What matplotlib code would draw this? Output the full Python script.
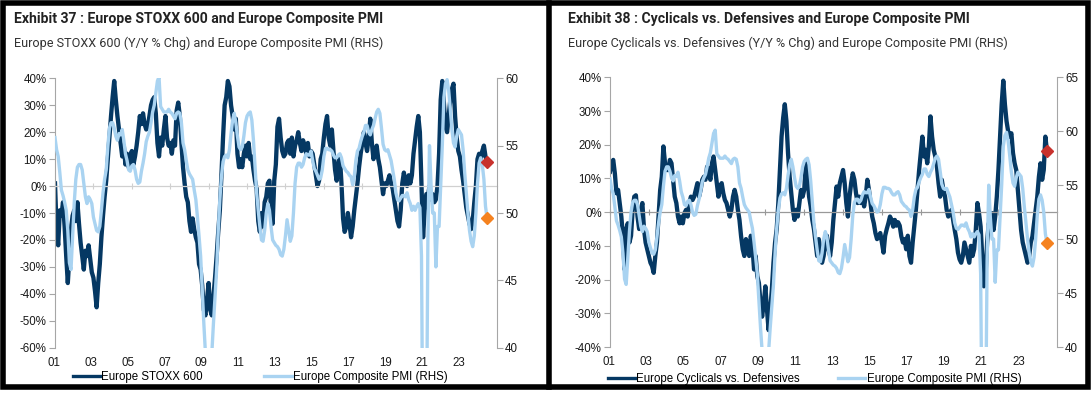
import matplotlib
matplotlib.use('Agg')
import matplotlib.pyplot as plt
import numpy as np
from matplotlib import font_manager
from matplotlib.lines import Line2D
from matplotlib.patches import Rectangle
import matplotlib.transforms as mtransforms

names = {f.name for f in font_manager.fontManager.ttflist}
TITLE_FONT = 'Liberation Sans Narrow' if 'Liberation Sans Narrow' in names else 'Roboto'
BODY_FONT = 'Liberation Sans'

# ---------------- data (monthly, Jan 2001 .. Jul 2023) ----------------
start_year = 2001.0

stoxx600_yoy = [
    1, -16, -22, -9, -11, -6, -15, -26, -36, -26, -16, -11,
    -9, -13, -6, -14, -21, -26, -31, -24, -26, -22, -27, -32,
    -34, -39, -45, -36, -29, -19, -11, -4, 2, 10, 18, 26,
    33, 39, 32, 26, 21, 16, 11, 15, 8, 12, 7, 11,
    13, 8, 11, 15, 20, 26, 23, 27, 23, 21, 22, 26,
    30, 32, 33, 27, 16, 11, 18, 15, 21, 26, 18, 15,
    16, 12, 17, 15, 28, 31, 26, 16, 7, 1, -4, -6,
    -13, -17, -12, -16, -19, -21, -29, -31, -37, -46, -48, -42,
    -36, -46, -48, -41, -34, -26, -17, -9, 4, 18, 30, 33,
    39, 37, 30, 26, 21, 25, 12, 7, 10, 7, 12, 15,
    11, 16, 10, 11, 6, 2, -1, -13, -17, -10, -15, -6,
    -4, 1, 2, -9, -14, 2, 8, 22, 25, 18, 13, 11,
    12, 16, 17, 12, 18, 11, 15, 17, 20, 16, 13, 17,
    15, 12, 16, 11, 13, 12, 8, 4, 0, 2, 10, 12,
    18, 23, 26, 18, 15, 21, 13, 6, 2, 8, 11, 1,
    -12, -17, -15, -10, -14, -19, -15, -9, -4, 1, 7, 12,
    16, 20, 16, 13, 18, 25, 16, 10, 12, 15, 10, 7,
    2, -3, 1, 0, 2, 4, 1, -1, -5, -9, -13, -15,
    -9, 1, 5, 1, 0, 4, 1, 4, 12, 17, 22, 26,
    20, 0, -19, -9, -3, -4, 0, -5, -3, -6, -5, 0,
    12, 32, 39, 31, 22, 20, 26, 32, 36, 38, 26, 18,
    13, 11, 6, 2, -3, -8, -11, -14, -16, -13, -6, 0,
    10, 12, 10, 13, 15, 11, 9,
]

cyc_vs_def_yoy = [
    12, 14.5, 15.5, 11.5, 5.6, 6.6, 2.7, -1.3, -7.2, -17, -5, -3.3,
    -9, -7, 0.7, 4.6, 5, -1.3, -5, 0.7, 2.7, -5, -9, -11,
    -13, -15, -16, -18, -13, -9, -1.3, 6.6, 10.5, 19.5, 14.5, 12.5,
    12.5, 15.5, 14.5, 9.6, 4.6, 2.7, -1.3, -3.3, -1.3, -3.3, -0.3, 0.7,
    -1.3, 2.7, 4.6, 3.6, 4.6, 6.6, 8.6, 4.6, 6.6, 9.6, 10.5, 9.6,
    13.5, 12.5, 9.6, 14.5, 16.5, 12.5, 8.6, 4.6, 7.6, 8.6, 5.6, 3.6,
    2.7, 0.7, -1.3, 0.7, 4.6, 6.6, 4.6, 0.7, -2.3, -7.2, -11, -13,
    -8, -10, -13, -7, -10, -17, -13, -19, -21, -27, -31, -27,
    -22, -29, -35, -29, -23, -15, -9, -5, 2.7, 12.5, 22.4, 28,
    32, 27, 17.5, 10.5, 5.6, 0.7, -2.3, 0.7, -1.3, 2.7, 6.6, 4.6,
    6.6, 14.5, 10.5, 4.6, 1.7, -2.3, -5, -9, -13, -8, -11, -15,
    -13, -9, -7, -11, -13, -9, -2.3, 2.7, 7.6, 4.6, 8.6, 10.5,
    12.5, 8.6, 2.7, -1.3, 4.6, 8.6, 11.5, 9.6, 5.6, 2.7, 4.6, 2.7,
    4.6, 1.7, 4.6, 9.6, 6.6, 2.7, -1.3, -3.3, -6.2, -8, -7, -6.2,
    -9, -12, -7, -5, -3.3, -1.3, -2.3, -4.3, -2.3, -4, -3, -4,
    -7.2, -9, -8, -11, -7, -13, -15, -9, -4.3, 0.7, 6.6, 12.5,
    17.5, 22.4, 16.5, 18.5, 14.5, 19.5, 28.4, 22.4, 18.5, 16.5, 13.5, 8.6,
    4.6, 9.6, 6.6, 4.6, 0.7, -1.3, -0.3, 0.7, -2.3, -5.3, -8, -12,
    -14, -15, -13, -9, -11, -13, -15, -10, -13, -11, -5.3, 2.7,
    -0.3, -4.3, -13, -22, -19, -9, -3.3, -5.3, -0.3, -5.3, -1.3, 4.6,
    12.5, 22.4, 32, 39, 32, 27, 24, 22.4, 23.4, 17.5, 14.5, 12.5,
    6.6, 0.7, -5.3, -9, -11, -13, -15, -13, -9, -7.2, -3.3, 0.7,
    4.6, 10.5, 14.5, 9.6, 12.5, 22.4, 18,
]

composite_pmi = [
    55.6, 54.7, 54.2, 53.0, 51.7, 51.3, 50.8, 50.2, 48.7, 46.3, 45.8, 48.3,
    50.7, 52.5, 53.4, 53.6, 53.6, 53.2, 52.2, 51.2, 50.7, 51.2, 51.0, 50.7,
    49.7, 49.2, 48.7, 48.6, 49.0, 50.2, 51.5, 52.5, 53.2, 54.9, 56.3, 56.7,
    56.7, 56.3, 55.7, 55.4, 55.9, 55.8, 56.2, 55.4, 54.4, 53.9, 53.2, 53.1,
    53.5, 53.6, 53.2, 52.5, 52.2, 52.3, 53.1, 53.7, 54.4, 55.3, 55.7, 56.0,
    56.7, 57.5, 58.0, 58.9, 59.8, 60.1, 57.9, 57.7, 57.5, 57.5, 57.5, 57.7,
    57.5, 57.4, 57.2, 57.0, 57.4, 57.5, 57.4, 56.7, 55.2, 54.7, 53.9, 53.2,
    52.9, 52.7, 52.5, 51.7, 51.0, 49.7, 48.3, 46.8, 44.3, 41.8, 39.6, 38.3,
    37.9, 38.8, 39.6, 41.8, 43.8, 45.8, 48.7, 51.0, 52.7, 53.8, 54.2, 54.3,
    54.1, 54.7, 55.9, 56.9, 57.4, 56.7, 55.7, 54.9, 54.7, 54.9, 55.7, 56.7,
    57.2, 57.4, 57.5, 56.9, 55.4, 53.4, 51.5, 50.2, 49.0, 48.0, 47.9, 48.7,
    50.0, 50.7, 50.2, 49.0, 48.0, 47.8, 47.6, 47.5, 47.3, 46.9, 46.8, 47.3,
    48.3, 49.5, 48.7, 47.9, 48.3, 50.0, 52.2, 53.4, 53.7, 53.7, 53.4, 53.6,
    54.1, 54.4, 54.3, 54.3, 54.6, 53.9, 53.3, 53.1, 52.8, 52.5, 52.6, 53.2,
    54.2, 54.8, 54.8, 54.7, 54.7, 54.6, 54.3, 54.1, 54.1, 54.3, 54.4, 54.1,
    53.5, 53.3, 53.1, 53.0, 52.8, 52.7, 52.1, 52.7, 53.9, 54.6, 54.8, 55.3,
    55.7, 56.0, 56.5, 56.5, 56.0, 55.8, 56.2, 56.5, 57.0, 57.5, 57.7, 57.4,
    56.3, 55.1, 54.7, 54.6, 54.7, 54.3, 53.9, 53.2, 52.5, 51.5, 51.0, 50.9,
    51.1, 51.3, 51.3, 51.2, 51.5, 51.0, 50.7, 50.2, 50.5, 50.2, 50.5, 50.7,
    50.4, 46.8, 30.0, 14.0, 31.0, 48.0, 55.0, 52.0, 50.0, 50.0, 46.0, 49.0,
    49.0, 52.0, 55.0, 58.6, 59.6, 59.9, 59.1, 57.7, 56.2, 55.2, 54.9, 55.7,
    56.2, 56.0, 55.8, 54.7, 53.0, 51.5, 50.0, 48.7, 47.9, 47.5, 48.3, 50.0,
    52.2, 53.7, 54.1, 53.6, 52.5, 50.5, 49.6,
]

year_labels = ['01', '03', '05', '07', '09', '11', '13', '15', '17', '19', '21', '23']

assert len(stoxx600_yoy) == len(cyc_vs_def_yoy) == len(composite_pmi)
n = len(composite_pmi)
dates = start_year + np.arange(n) / 12.0
label_pos = 2000.95 + 1.9165 * np.arange(len(year_labels))
tick_pos = start_year + 2.0 * np.arange(12)

DARK = '#053863'
LIGHT = '#A9D3F1'
RED = '#C8322D'
ORANGE = '#F5821F'
AXIS_GREY = '#A6A6A6'
TXT = '#1a1a1a'

W, H = 1091, 399
fig = plt.figure(figsize=(W / 100, H / 100), dpi=100)


def rect_px(x0, x1, ytop, ybot):
    return [x0 / W, 1 - ybot / H, (x1 - x0) / W, (ybot - ytop) / H]


def panel(rect, series, ylim, yticks, plim, pticks, zero_color, title, subtitle,
          title_x, legend_label, legend_xy, colspace):
    ax = fig.add_axes(rect)
    ax2 = ax.twinx()
    ax.plot(dates, series, color=DARK, lw=3.1, solid_joinstyle='round', zorder=2)
    ax2.plot(dates, composite_pmi, color=LIGHT, lw=2.4, zorder=2)
    ax2.plot(dates[-1], series[-1], 'D', color=RED, ms=6, transform=ax.transData, zorder=6,
             clip_on=False)
    ax2.plot(dates[-1], composite_pmi[-1], 'D', color=ORANGE, ms=6, zorder=6, clip_on=False)

    ax.set_xlim(start_year, start_year + 23.0)
    ax.set_ylim(*ylim)
    ax2.set_ylim(*plim)
    ax.set_yticks(yticks)
    ax.set_yticklabels([f'{v:.0f}%' for v in yticks])
    ax2.set_yticks(pticks)
    ax2.set_yticklabels([f'{v:.0f}' for v in pticks])

    for s in ['top', 'right']:
        ax.spines[s].set_visible(False)
    for s in ['top', 'left', 'bottom']:
        ax2.spines[s].set_visible(False)
    ax.spines['left'].set_color(AXIS_GREY)
    ax2.spines['right'].set_color(AXIS_GREY)
    ax.spines['bottom'].set_position(('data', 0))
    ax.spines['bottom'].set_color(zero_color)
    ax.spines['bottom'].set_linewidth(0.9)
    ax.set_xticks(tick_pos)
    ax.tick_params(axis='x', direction='inout', length=4, color=zero_color, labelbottom=False)
    ax.tick_params(axis='y', direction='out', length=4, color=AXIS_GREY, labelsize=8.3,
                   labelcolor=TXT, pad=2)
    ax2.tick_params(axis='y', direction='out', length=4, color=AXIS_GREY, labelsize=8.3,
                    labelcolor=TXT, pad=2)
    for lab in ax.get_yticklabels() + ax2.get_yticklabels():
        lab.set_fontfamily(BODY_FONT)

    tr = mtransforms.blended_transform_factory(ax.transData, ax.transAxes)
    for p, lab in zip(label_pos, year_labels):
        ax.text(p, -0.056, lab, transform=tr, ha='center', va='center', fontsize=8.3,
                family=BODY_FONT, color=TXT)

    fig.text(title_x / W, 1 - 19 / H, title, fontsize=10.1, fontweight='bold',
             family=TITLE_FONT, color='#222222', va='center', ha='left')
    fig.text(title_x / W, 1 - 43 / H, subtitle, fontsize=9.1, family=TITLE_FONT,
             color='#333333', va='center', ha='left')

    handles = [Line2D([], [], color=DARK, lw=2.4), Line2D([], [], color=LIGHT, lw=2.4)]
    fig.legend(handles, [legend_label, 'Europe Composite PMI (RHS)'], loc='center left',
               bbox_to_anchor=(legend_xy[0] / W, 1 - legend_xy[1] / H), ncol=2,
               frameon=False, borderpad=0, borderaxespad=0, handlelength=2.37,
               handletextpad=0.1, columnspacing=colspace,
               prop={'family': BODY_FONT, 'size': 8.3})
    return ax, ax2


panel(rect_px(55, 496.7, 78.3, 347.7), stoxx600_yoy, (-60, 40), np.arange(-60, 41, 10),
      (40, 60), np.arange(40, 61, 5), '#D0D0D0',
      'Exhibit 37 : Europe STOXX 600 and Europe Composite PMI',
      'Europe STOXX 600 (Y/Y % Chg) and Europe Composite PMI (RHS)',
      14, 'Europe STOXX 600', (73, 377), 5.3)

panel(rect_px(610, 1056.7, 77.3, 347.0), cyc_vs_def_yoy, (-40, 40), np.arange(-40, 41, 10),
      (40, 65), np.arange(40, 66, 5), '#999999',
      'Exhibit 38 : Cyclicals vs. Defensives and Europe Composite PMI',
      'Europe Cyclicals vs. Defensives (Y/Y % Chg) and Europe Composite PMI (RHS)',
      568, 'Europe Cyclicals vs. Defensives', (608, 379), 3.3)

# frame
lw_pt = 4.0
fig.add_artist(Rectangle((2.8 / W, 1 - 386.5 / H), (1088 - 2.8) / W, (386.5 - 2.8) / H,
                         transform=fig.transFigure, fill=False, ec='black', lw=lw_pt))
fig.add_artist(Line2D([549 / W, 549 / W], [1 - 386.5 / H, 1 - 2.8 / H],
                      transform=fig.transFigure, color='black', lw=lw_pt))

fig.savefig('out.png', dpi=100)
